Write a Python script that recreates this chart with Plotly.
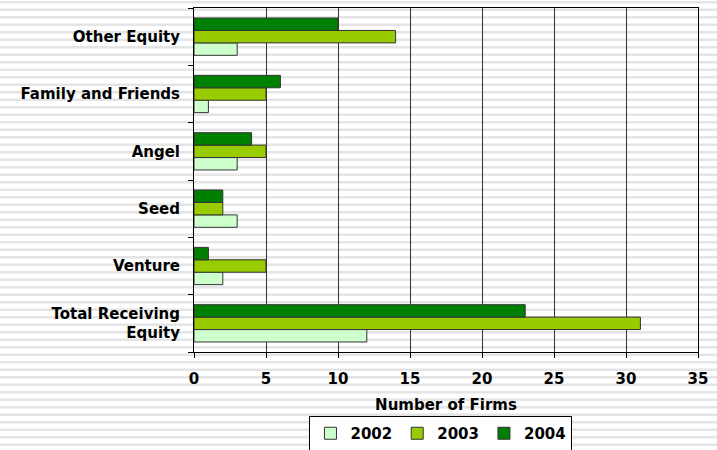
import plotly.graph_objects as go

categories = ["Total Receiving<br>Equity", "Venture", "Seed", "Angel", "Family and Friends", "Other Equity"]
years = ["2002", "2003", "2004"]
v2002 = [12, 2, 3, 3, 1, 3]
v2003 = [31, 5, 2, 5, 5, 14]
v2004 = [23, 1, 2, 4, 6, 10]
colors = ["#CCFFCC", "#99CC00", "#008000"]
x_ticks = [0, 5, 10, 15, 20, 25, 30, 35]

W, H = 717, 450
ML, MR, MT, MB = 194, 19, 8, 98
PW, PH = W - ML - MR, H - MT - MB

fig = go.Figure()
for name, vals, col in zip(years, [v2002, v2003, v2004], colors):
    fig.add_trace(go.Bar(
        y=categories, x=vals, name=name, orientation="h",
        marker=dict(color=col, line=dict(color="#333333", width=1)),
    ))

# striped background
shapes = []
period = 7.5
p = 1.0
while p < H:
    y0 = (H - MB - p) / PH
    y1 = (H - MB - (p + 2.5)) / PH
    shapes.append(dict(type="rect", xref="paper", yref="paper",
                       x0=-ML / PW, x1=1 + MR / PW, y0=y1, y1=y0,
                       fillcolor="#e4e4e4", line=dict(width=0), layer="below"))
    p += period

font_fam = "DejaVu Sans"
fig.update_layout(
    width=W, height=H,
    margin=dict(l=ML, r=MR, t=MT, b=MB, autoexpand=False),
    paper_bgcolor="white", plot_bgcolor="rgba(0,0,0,0)",
    barmode="group", bargap=0.35, bargroupgap=0,
    shapes=shapes,
    font=dict(family=font_fam, color="black", size=14),
    showlegend=True,
    legend=dict(orientation="h", x=0.49, xanchor="center", y=(H - MB - 451) / PH, yanchor="bottom",
                bgcolor="white", bordercolor="black", borderwidth=1,
                font=dict(family=font_fam, size=15, weight="bold"),
                traceorder="normal", itemwidth=30, tracegroupgap=0),
    xaxis=dict(range=[0, 35], tickvals=x_ticks, showgrid=True, gridcolor="#333333", gridwidth=1,
               showline=True, linecolor="black", linewidth=1, mirror=True,
               ticks="outside", ticklen=5, tickcolor="black", ticklabelstandoff=8,
               tickfont=dict(family=font_fam, size=15, weight="bold"),
               title=dict(text="Number of Firms", font=dict(family=font_fam, size=15, weight="bold"), standoff=12),
               zeroline=False, fixedrange=True, automargin=False),
    yaxis=dict(showgrid=False, showline=True, linecolor="black", linewidth=1, mirror=True,
               ticks="outside", ticklen=5, tickcolor="black", tickson="boundaries",
               tickfont=dict(family=font_fam, size=15, weight="bold"),
               ticklabelstandoff=10, fixedrange=True, automargin=False),
)

fig.write_html("out.html", config={"displayModeBar": False},
               post_script="document.body.style.margin='0px';")
